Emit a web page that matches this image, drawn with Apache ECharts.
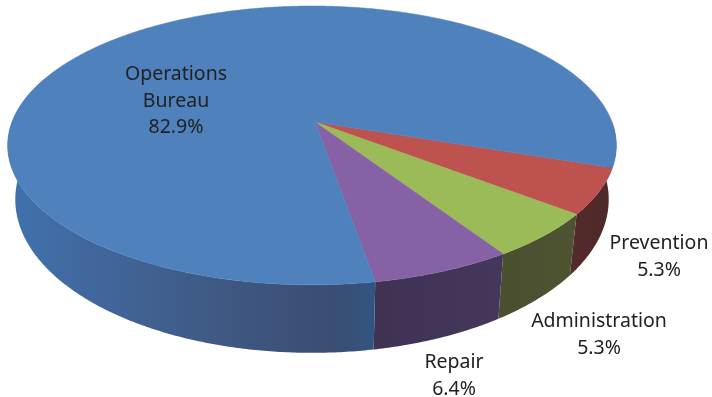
<!DOCTYPE html>
<html>
<head>
<meta charset="utf-8">
<style>html,body{margin:0;padding:0;background:#fff}#c{width:712px;height:397px}</style>
<script src="https://cdn.jsdelivr.net/npm/echarts@6/dist/echarts.min.js"></script>
</head>
<body>
<div id="c"></div>
<script>
const categories = ["Prevention", "Administration", "Repair", "Operations\nBureau"];
const shares = [5.3, 5.3, 6.4, 82.9];
const topColors = ["#bd524f", "#9bbb59", "#8761a5", "#4f81bd"];

const startAngle = 18.6, total = shares.reduce((a, b) => a + b, 0);
const apex = [315, 122], cx = 312, cy = 122, a = 300, b = 135.5, persp = 0.168;
const labelAnchors = [[659, 257], [599, 335], [454, 376], [176, 101]];

function topPoint(deg) {
  const t = deg * Math.PI / 180, u = Math.cos(t), v = Math.sin(t), w = 1 - persp * v;
  return [cx + a * u / w, cy + b * v / w];
}
function bottomPoint(p) {
  return [cx + (p[0] - cx) * 0.975, 353 - (285 - p[1]) * 1.1];
}
function sliceRange(i) {
  let s = startAngle;
  for (let k = 0; k < i; k++) s += shares[k] / total * 360;
  return [s, s + shares[i] / total * 360];
}
function arc(s, e) {
  const pts = [], n = Math.ceil((e - s) * 2);
  for (let k = 0; k <= n; k++) pts.push(topPoint(s + (e - s) * k / n));
  return pts;
}
function wallFill(i) {
  const stops = [
    [[0, "#552a2b"], [1, "#4c2a2a"]],
    [[0, "#4a4f2f"], [1, "#4e5332"]],
    [[0, "#3f3253"], [1, "#45375b"]],
    [[0, "#3f72ad"], [0.25, "#41669b"], [0.55, "#3f5a85"], [0.88, "#3a4d73"], [0.96, "#37527a"], [1, "#2f5680"]]
  ][i].map(s => ({offset: s[0], color: s[1]}));
  if (i === 3) return new echarts.graphic.LinearGradient(10, 0, 374, 0, stops, true);
  return new echarts.graphic.LinearGradient(0, 0, 1, 0, stops);
}

const items = shares.map((v, i) => [i, v]);
const option = {
  animation: false,
  backgroundColor: "#ffffff",
  series: [
    {
      type: "custom", coordinateSystem: "none", z: 1, silent: true, data: items,
      renderItem(params) {
        const i = params.dataIndex, r = sliceRange(i);
        // only the front of the wall shows: the first slice wraps to the right edge, the last stops at the left edge
        const s = i === 0 ? 0 : r[0], e = i === 3 ? 200 : r[1];
        const top = arc(s, e);
        const pts = top.concat(top.slice().reverse().map(bottomPoint));
        return {type: "polygon", shape: {points: pts}, style: {fill: wallFill(i), stroke: null}};
      }
    },
    {
      type: "custom", coordinateSystem: "none", z: 2, silent: true, data: items,
      renderItem(params) {
        const i = params.dataIndex, r = sliceRange(i);
        return {type: "polygon", shape: {points: [apex].concat(arc(r[0], r[1]))}, style: {fill: topColors[i], stroke: topColors[i], lineWidth: 0.5}};
      }
    },
    {
      type: "custom", coordinateSystem: "none", z: 3, silent: true, data: items,
      renderItem(params, api) {
        const i = params.dataIndex;
        return {type: "text", style: {
          x: labelAnchors[i][0], y: labelAnchors[i][1],
          text: categories[i] + "\n" + api.value(1).toFixed(1) + "%",
          align: "center", verticalAlign: "middle",
          fontFamily: "Noto Sans", fontSize: 19.5, lineHeight: 26.5, fill: "#222222"
        }};
      }
    }
  ]
};
echarts.init(document.getElementById("c"), null, {renderer: "canvas"}).setOption(option);
</script>
</body>
</html>
